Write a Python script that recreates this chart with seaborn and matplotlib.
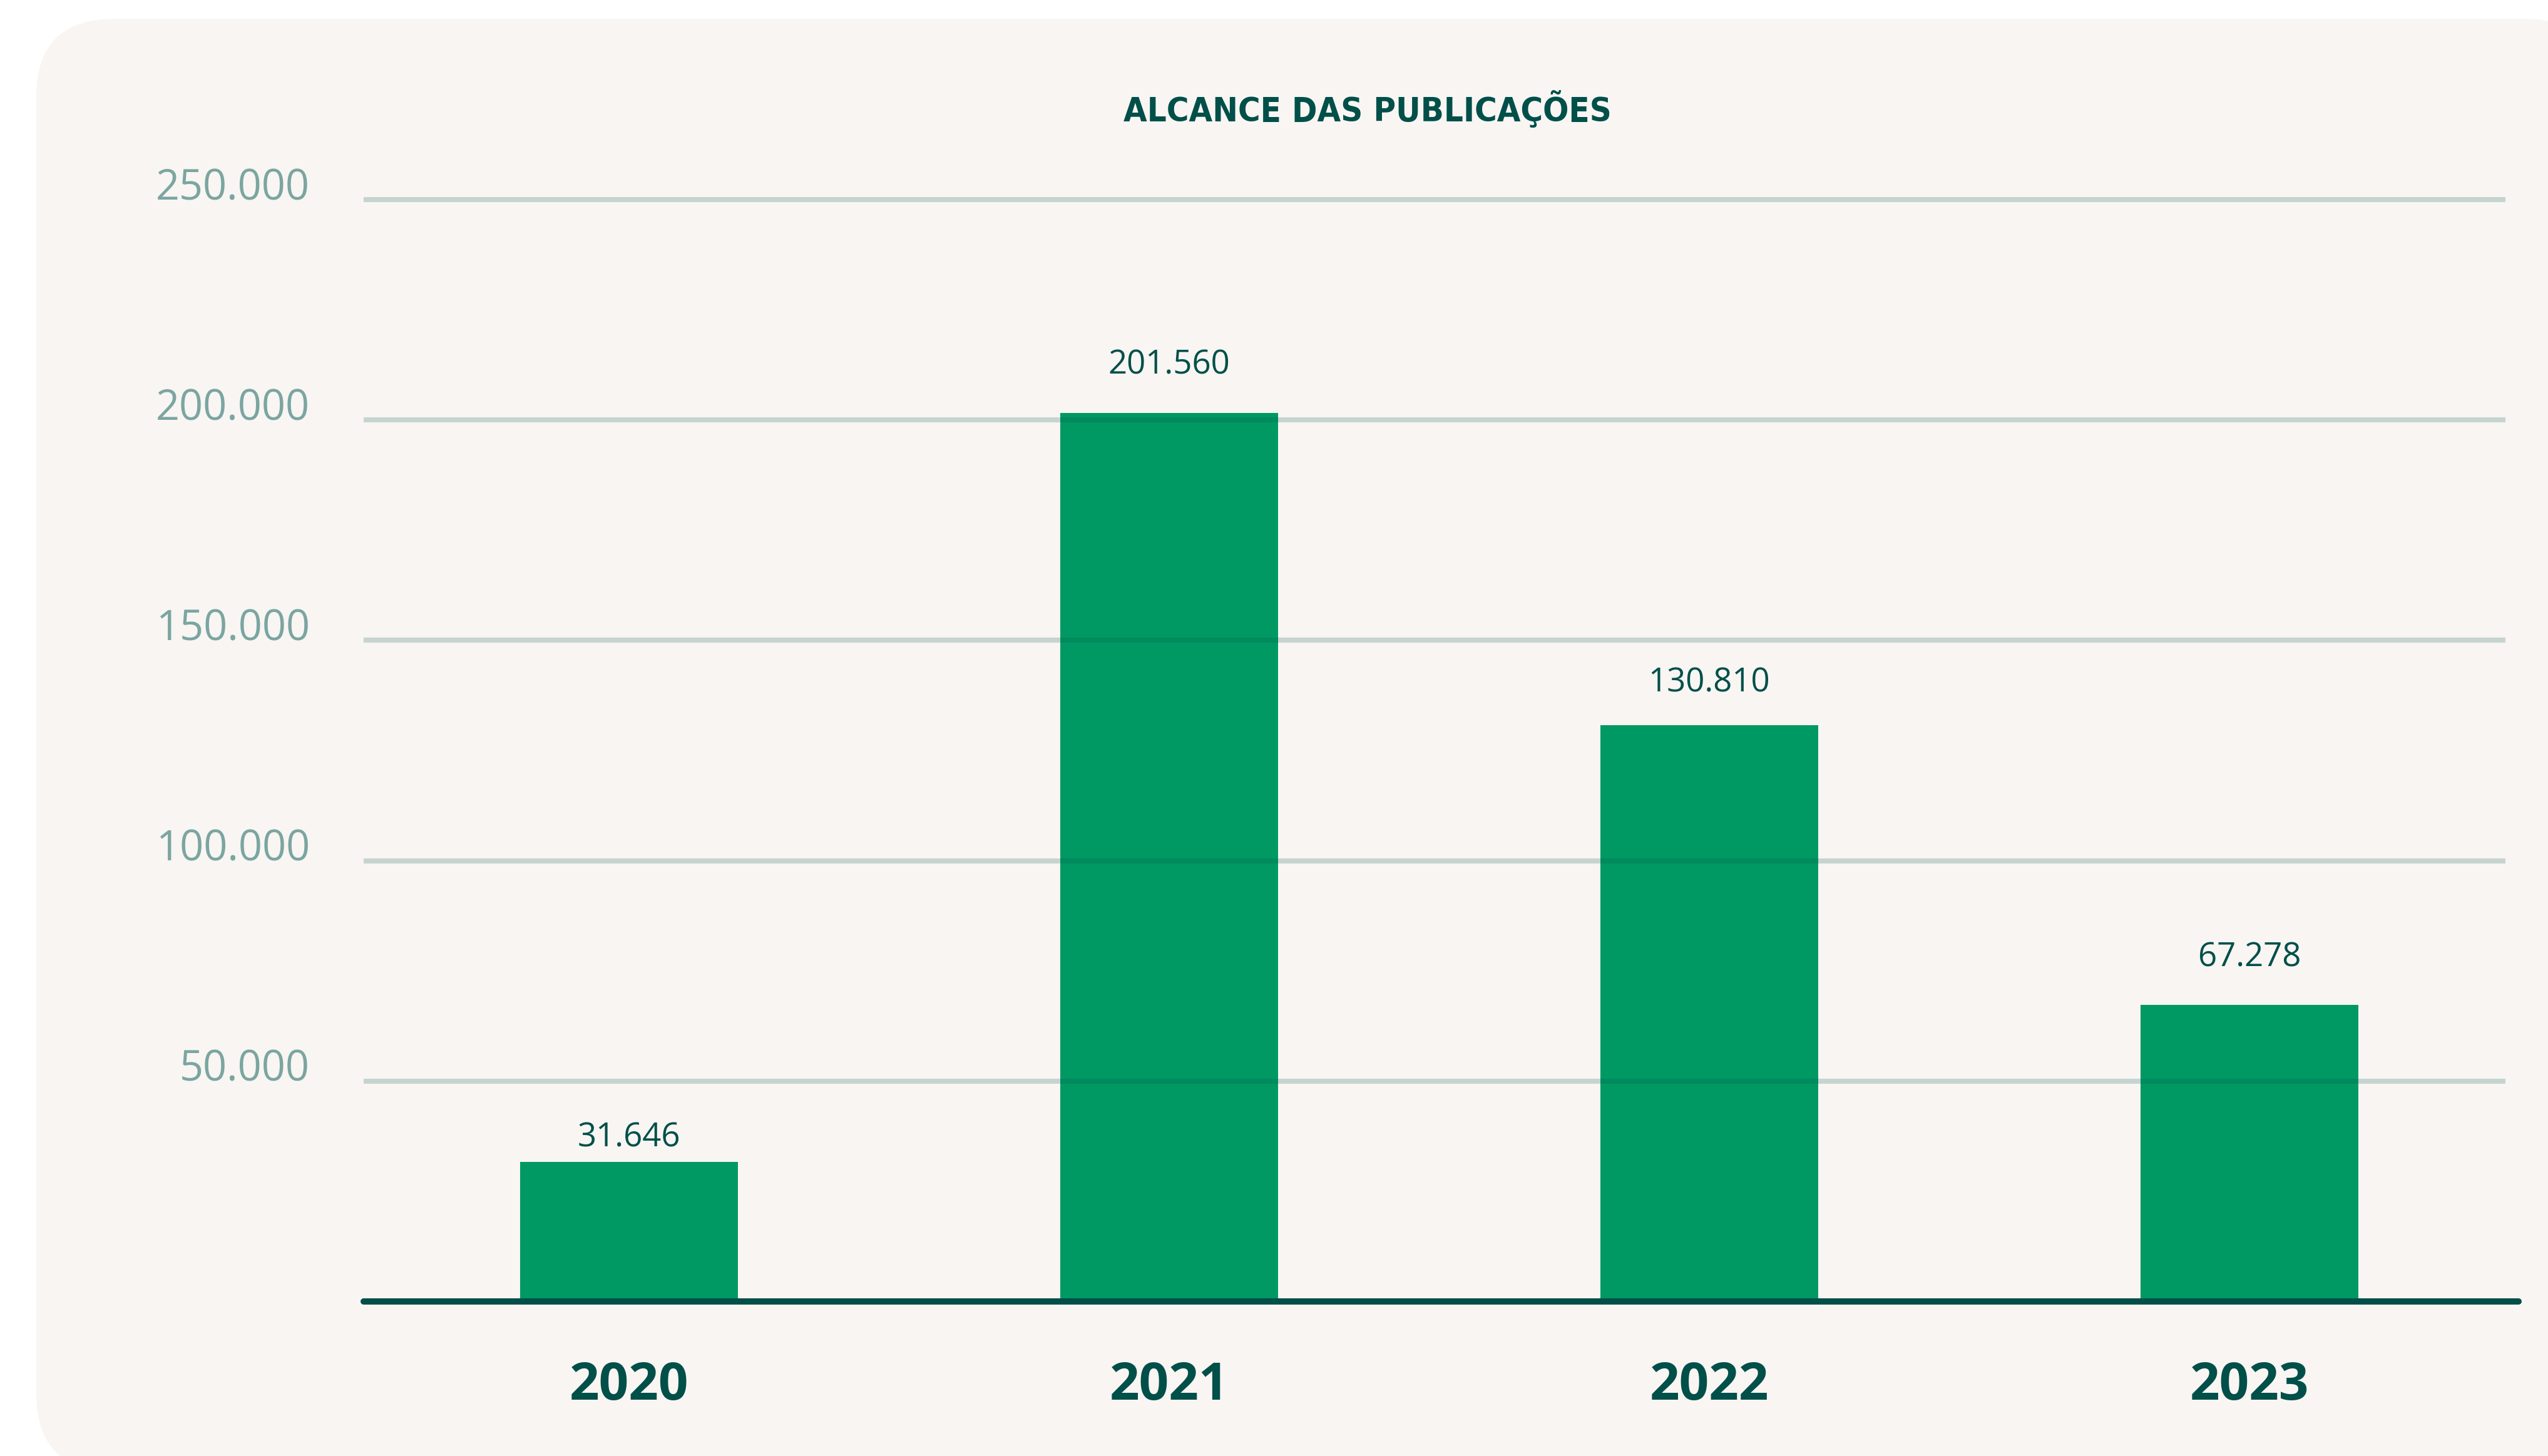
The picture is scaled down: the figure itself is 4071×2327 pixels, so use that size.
import matplotlib
matplotlib.use("Agg")
import matplotlib.pyplot as plt
from matplotlib.patches import FancyBboxPatch
from matplotlib import font_manager
import seaborn as sns

# Data
years = ["2020", "2021", "2022", "2023"]
reach = [31646, 201560, 130810, 67278]
y_ticks = [50000, 100000, 150000, 200000, 250000]
title = "ALCANCE DAS PUBLICAÇÕES"


def fmt(v):
    return f"{v:,}".replace(",", ".")


# Colours
PANEL = "#F8F5F2"
BAR = "#009963"
DARK = "#004F49"
TICK = "#7BA5A0"

available = {f.name for f in font_manager.fontManager.ttflist}
num_font = "Open Sans" if "Open Sans" in available else "DejaVu Sans"

# Narrow bold face for the heading, if one is installed
title_prop = None
for f in font_manager.fontManager.ttflist:
    fn = f.fname.lower()
    if ("condensed" in fn or "narrow" in fn) and "bold" in fn and "oblique" not in fn and "italic" not in fn:
        title_prop = font_manager.FontProperties(fname=f.fname, size=39)
        break
if title_prop is None:
    title_prop = font_manager.FontProperties(family="DejaVu Sans", weight="bold", size=34)

sns.set_style("white")
plt.rcParams["font.family"] = [num_font, "DejaVu Sans"]

W, H = 4071, 2327
fig = plt.figure(figsize=(W / 100, H / 100), dpi=100, facecolor="white")

# Rounded card behind the chart (pixel coordinates)
bg = fig.add_axes([0, 0, 1, 1], zorder=-1)
bg.set_xlim(0, W)
bg.set_ylim(H, 0)
bg.axis("off")
bg.add_patch(FancyBboxPatch((58, 30), 4158 - 58, 2352 - 30,
                            boxstyle="round,pad=0,rounding_size=125",
                            facecolor=PANEL, edgecolor="none"))

# Plot area
ax = fig.add_axes([581 / W, (H - 2080) / H, (4003 - 581) / W, 1849 / H])
ax.patch.set_alpha(0)

sns.barplot(x=years, y=reach, color=BAR, saturation=1, width=0.403,
            linewidth=0, ax=ax)

ax.set_xlim(-0.491, 3.474)
ax.set_ylim(0, 262500)
ax.set_xlabel("")
ax.set_ylabel("")
for s in ax.spines.values():
    s.set_visible(False)

ax.set_yticks(y_ticks)
ax.set_yticklabels([fmt(v) for v in y_ticks])
ax.tick_params(axis="y", length=0, pad=62, labelsize=48, labelcolor=TICK)
for lab in ax.get_yticklabels():
    lab.set_verticalalignment("baseline")
    lab.set_fontfamily(num_font)

ax.tick_params(axis="x", length=0, pad=68, labelsize=60, labelcolor=DARK)
for lab in ax.get_xticklabels():
    lab.set_fontweight("bold")
    lab.set_fontfamily(num_font)

ax.set_axisbelow(False)
ax.yaxis.grid(True, color="#005048", alpha=0.2, linewidth=5.8)
ax.xaxis.grid(False)

# Baseline
ax.axhline(0, xmin=0, xmax=(4024 - 581) / (4003 - 581), color=DARK,
           linewidth=7.2, clip_on=False, zorder=4)

# Value labels above bars
label_pads = [18, 45, 38, 44]
for i, (v, p) in enumerate(zip(reach, label_pads)):
    ax.annotate(fmt(v), xy=(i, v), xytext=(0, p), textcoords="offset points",
                ha="center", va="baseline", fontsize=38, color=DARK,
                fontfamily=num_font)

fig.text(2185 / W, 1 - 194 / H, title, ha="center", va="baseline",
         color=DARK, fontproperties=title_prop)

fig.savefig("out.png", dpi=100, facecolor="white")
